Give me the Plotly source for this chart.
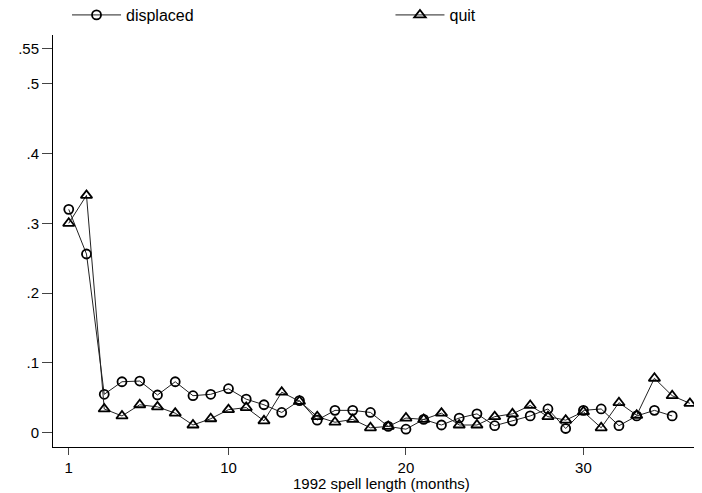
import plotly.graph_objects as go

# durée de chômage 1992 (mois) et taux de sortie
mois = list(range(1, 37))

displaced = [0.320, 0.256, 0.055, 0.073, 0.074, 0.054, 0.073, 0.053, 0.055, 0.063,
             0.048, 0.040, 0.029, 0.046, 0.018, 0.032, 0.032, 0.029, 0.009, 0.005,
             0.019, 0.011, 0.021, 0.027, 0.010, 0.017, 0.024, 0.034, 0.006, 0.032,
             0.034, 0.010, 0.024, 0.032, 0.024, None]

quit = [0.300, 0.340, 0.034, 0.024, 0.040, 0.037, 0.028, 0.011, 0.020, 0.033,
        0.036, 0.017, 0.058, 0.045, 0.023, 0.015, 0.019, 0.007, 0.009, 0.021,
        0.019, 0.028, 0.011, 0.011, 0.023, 0.027, 0.039, 0.023, 0.018, 0.030,
        0.007, 0.043, 0.025, 0.078, 0.053, 0.042]

y_ticks = [0, 0.1, 0.2, 0.3, 0.4, 0.5, 0.55]
y_labels = ['0', '.1', '.2', '.3', '.4', '.5', '.55']
x_ticks = [1, 10, 20, 30]

fonte = dict(family='Liberation Sans, Arial, sans-serif', size=16, color='black')
fonte_ticks = dict(fonte, size=15)

fig = go.Figure()

fig.add_trace(go.Scatter(
    x=mois, y=displaced, mode='lines+markers', name='displaced',
    line=dict(color='#222222', width=1),
    marker=dict(symbol='circle-open', size=9, color='black', line=dict(width=1.8, color='black')),
    legend='legend', showlegend=True
))

fig.add_trace(go.Scatter(
    x=mois, y=quit, mode='lines+markers', name='quit',
    line=dict(color='#222222', width=1),
    marker=dict(symbol='triangle-up-open', size=10, color='black', line=dict(width=1.8, color='black')),
    legend='legend2', showlegend=True
))

leg = dict(orientation='h', xanchor='left', y=1.0485, yanchor='middle',
           font=fonte, itemwidth=49, bgcolor='rgba(0,0,0,0)')

# la page a une marge de 8 px autour du graphique
fig.update_layout(
    width=702, height=493,
    margin=dict(l=45, r=8, t=27, b=54, autoexpand=False),
    plot_bgcolor='white', paper_bgcolor='white',
    font=fonte,
    showlegend=True,
    legend=dict(leg, x=0.0216),
    legend2=dict(leg, x=0.520),
    annotations=[dict(
        text='1992 spell length (months)', xref='paper', yref='paper',
        x=0.506, y=-0.0898, xanchor='center', yanchor='middle',
        showarrow=False, font=fonte_ticks
    )]
)

fig.update_xaxes(
    range=[0.113, 36.68], tickvals=x_ticks, showgrid=False, zeroline=False,
    showline=True, linecolor='black', linewidth=1,
    ticks='outside', ticklen=7, tickcolor='#444444', tickfont=fonte_ticks
)
fig.update_yaxes(
    range=[-0.0205, 0.5698], tickvals=y_ticks, ticktext=y_labels,
    showgrid=False, zeroline=False,
    showline=True, linecolor='black', linewidth=1,
    ticks='outside', ticklen=10, tickcolor='#444444', tickfont=fonte_ticks
)

fig.write_html("out.html")
